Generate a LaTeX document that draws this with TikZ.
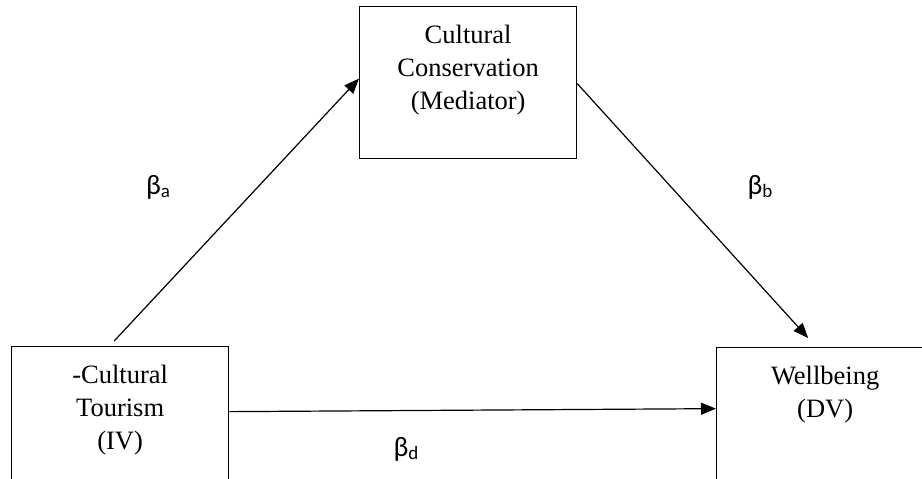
\documentclass[tikz,border=0pt]{standalone}
\usepackage{fontspec}
\setmainfont{Liberation Serif}
\newfontfamily\betafont{Carlito}
\usetikzlibrary{arrows.meta}

\newcommand{\coefsub}[1]{β\raisebox{-3pt}{\fontsize{19}{19}\selectfont #1}}

\begin{document}
\begin{tikzpicture}[
  x=1pt, y=-1pt,
  every node/.style={font=\fontsize{26.5}{33}\selectfont},
  var/.style={draw, line width=1.3pt, anchor=north west, align=center, text width=210pt,
    inner xsep=3.5pt, inner ysep=0pt, minimum width=217pt, minimum height=152pt,
    text height=37pt, text depth=115pt},
  effect/.style={-{Triangle[length=15pt, width=12pt]}, line width=1.2pt},
  coef/.style={font=\betafont\fontsize{28}{32}\selectfont, anchor=base, inner sep=0pt}
]
  \useasboundingbox (0,0) rectangle (922,479);
  \clip (0,0) rectangle (922,479);

  % the three variables
  \node[var] (cons) at (359,6) {Cultural\\Conservation\\(Mediator)};
  \node[var] (tour) at (11,346) {-Cultural\\Tourism\\(IV)};
  \node[var] (well) at (716,347) {Wellbeing\\(DV)};

  % paths a, b and d
  \draw[effect] ([shift={(-6,-5)}]tour.north) -- ([yshift=4]cons.west);
  \draw[effect] ([yshift=-1]cons.east) -- ([shift={(-17,-9)}]well.north);
  \draw[effect] ([yshift=11]tour.east) -- ([yshift=15]well.west);

  % coefficients
  \node[coef] (ba) at (158,194) {\coefsub{a}};
  \node[coef] (bb) at (760,194) {\coefsub{b}};
  \node[coef] (bd) at (406,456) {\coefsub{d}};
\end{tikzpicture}
\end{document}
